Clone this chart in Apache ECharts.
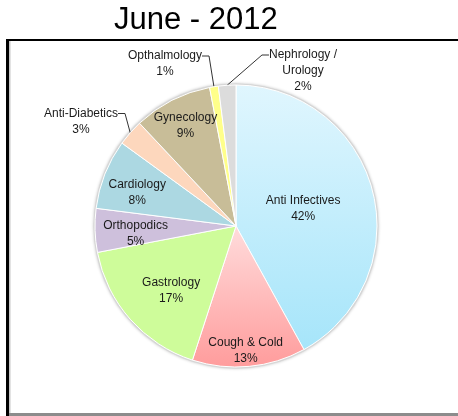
<!DOCTYPE html>
<html><head><meta charset="utf-8">
<script src="https://cdn.jsdelivr.net/npm/echarts@6/dist/echarts.min.js"></script>
<style>html,body{margin:0;padding:0;background:#fff;}#c{width:458px;height:416px;}</style>
</head><body><div id="c"></div>
<script>
// ---- data ----
const chartTitle = 'June - 2012';
const categories = ['Anti Infectives', 'Cough & Cold', 'Gastrology', 'Orthopodics', 'Cardiology',
                    'Anti-Diabetics', 'Gynecology', 'Opthalmology', 'Nephrology /\nUrology'];
const values = [42, 13, 17, 5, 8, 3, 9, 1, 2];

// ---- styles ----
function vgrad(a, b) {
  return { type: 'linear', x: 0, y: 0, x2: 0, y2: 1, colorStops: [{ offset: 0, color: a }, { offset: 1, color: b }] };
}
const colors = [vgrad('#e0f6fe', '#a6e5fa'), vgrad('#ffdcdc', '#ff9c9c'), '#cefc9a', '#cec0dc', '#acd8e2',
                '#fdd7bd', '#c8bd98', '#ffff8a', '#dcdcdc'];
const CX = 236, CY = 226, R = 141;
const FONT = "'Liberation Sans', Arial, sans-serif";
// outside labels (with leader lines): centre x and top y of the text block
const outsideLabelPos = { 5: [81, 89.5], 7: [165, 32], 8: [303, 15] };
const outsidePad = { 5: [16, 0, 0, 0], 7: [16, 0, 0, 0], 8: [32, 0, 0, 0] };
// nudges for inside labels relative to where the library puts them
const insideNudge = { 0: [-4, 1], 1: [0, 22.5], 2: [12, -3.5], 3: [2, 4.5], 4: [-3.5, 4.5], 6: [-4, -9] };

const baseLabel = {
  color: '#1a1a1a', fontSize: 12, fontFamily: FONT, lineHeight: 16,
  formatter: '{b}\n{c}%', textBorderWidth: 0, align: 'center'
};

function layoutFn(p) {
  const i = p.dataIndex;
  const r = p.labelRect;
  if (outsideLabelPos[i]) {
    return { x: outsideLabelPos[i][0], y: outsideLabelPos[i][1], align: 'center', verticalAlign: 'top' };
  }
  const n = insideNudge[i];
  if (n && r) {
    return { x: r.x + r.width / 2 + n[0], y: r.y + r.height / 2 + n[1], align: 'center', verticalAlign: 'middle' };
  }
  return {};
}

const mainData = categories.map((n, i) => {
  let label;
  if (i === 0) label = { show: true, position: 'inside' };
  else if (outsideLabelPos[i]) label = { show: true, position: 'outside', padding: outsidePad[i], backgroundColor: 'rgba(0,0,0,0)' };
  else label = { show: false };
  return { name: n, value: values[i], itemStyle: { color: colors[i] }, label: label,
           labelLine: { show: !!outsideLabelPos[i] } };
});
const ringData = categories.map((n, i) => ({
  name: n, value: values[i],
  label: { show: i !== 0 && !outsideLabelPos[i] }
}));

const chart = echarts.init(document.getElementById('c'), null, { renderer: 'canvas' });
chart.setOption({
  animation: false,
  backgroundColor: '#fff',
  title: {
    text: chartTitle, left: 114, top: 5, padding: 0,
    textStyle: { fontSize: 31, fontWeight: 'normal', color: '#000', fontFamily: FONT }
  },
  graphic: [
    { type: 'rect', silent: true, shape: { x: 6, y: 39, width: 452, height: 2 }, style: { fill: '#000' } },
    { type: 'rect', silent: true, shape: { x: 6, y: 39, width: 3, height: 377 }, style: { fill: '#000' } },
    { type: 'rect', silent: true, shape: { x: 9, y: 41, width: 1.5, height: 372 }, style: { fill: '#c8c8c8' } },
    { type: 'rect', silent: true, shape: { x: 9, y: 413, width: 449, height: 3 }, style: { fill: '#8c8c8c' } }
  ],
  series: [
    { // soft halo behind the pie
      type: 'pie', z: 1, silent: true, center: [CX, CY], radius: [0, R + 1.5],
      label: { show: false }, labelLine: { show: false },
      itemStyle: { color: '#d6d6d6', shadowBlur: 3, shadowColor: 'rgba(0,0,0,0.25)' },
      data: [{ name: '', value: 1 }]
    },
    {
      type: 'pie', z: 2, silent: true, center: [CX, CY], radius: [0, R], startAngle: 90, clockwise: true,
      avoidLabelOverlap: false,
      itemStyle: { borderColor: '#fff', borderWidth: 1 },
      label: baseLabel,
      labelLine: { length: 18, length2: 7, smooth: false, minTurnAngle: 0, lineStyle: { color: '#333', width: 1 } },
      labelLayout: layoutFn,
      data: mainData
    },
    { // transparent ring that carries the inside labels further out from the centre
      type: 'pie', z: 3, silent: true, center: [CX, CY], radius: [58, R], startAngle: 90, clockwise: true,
      avoidLabelOverlap: false,
      itemStyle: { color: 'rgba(0,0,0,0)', borderWidth: 0 },
      label: Object.assign({}, baseLabel, { position: 'inside' }),
      labelLine: { show: false },
      labelLayout: layoutFn,
      data: ringData
    }
  ]
});
</script>
</body></html>
